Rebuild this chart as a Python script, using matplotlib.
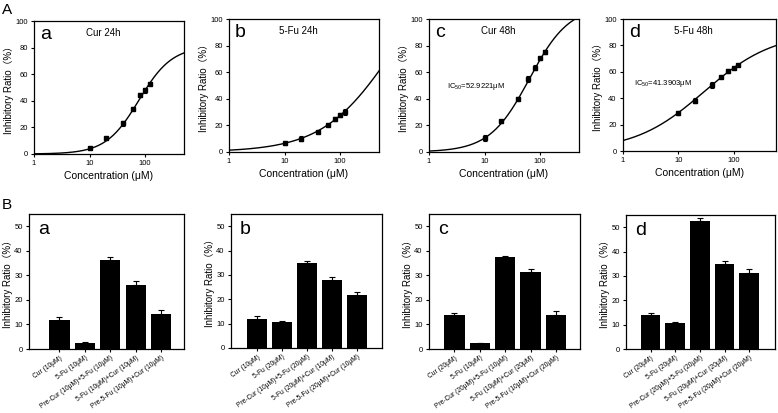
import numpy as np
import matplotlib
matplotlib.use("Agg")
import matplotlib.pyplot as plt

plt.rcParams["font.family"] = ["Liberation Sans", "Noto Sans CJK SC", "DejaVu Sans"]
plt.rcParams["mathtext.fontset"] = "custom"
plt.rcParams["mathtext.rm"] = "Liberation Sans"
plt.rcParams["mathtext.default"] = "regular"

# ---- A: dose-response (concentration in uM) ----
conc = [10, 20, 40, 60, 80, 100, 120]

cur24 = [4.5, 12, 23, 34, 44, 48, 53]
cur24_err = [0.8, 0.8, 1.8, 1.0, 1.5, 2.0, 1.0]
fu24 = [6.5, 10, 15, 20.5, 24.5, 27.5, 30]
fu24_err = [1.0, 2.0, 0.8, 0.8, 1.5, 1.5, 2.5]
cur48 = [10.5, 23, 40, 55, 63.5, 70.5, 75]
cur48_err = [2.0, 1.0, 1.0, 2.0, 2.0, 1.0, 1.5]
fu48 = [29, 38, 50, 56, 60.5, 63, 65]
fu48_err = [1.5, 1.8, 2.0, 1.0, 1.5, 0.8, 0.8]

# fitted logistic curves: top, EC50, hill slope
fit_cur24 = [81, 77.4, 1.458]
fit_fu24 = [150, 864, 0.693]
fit_cur48 = [110, 64, 1.212]
fit_fu48 = [90, 29.3, 0.691]

# ---- B: combination treatments ----
labels_a = ["Cur (10μM)", "5-Fu (10μM)", "Pre-Cur (10μM)+5-Fu (10μM)",
            "5-Fu (10μM)+Cur (10μM)", "Pre-5-Fu (10μM)+Cur (10μM)"]
labels_b = ["Cur (10μM)", "5-Fu (20μM)", "Pre-Cur (10μM)+5-Fu (20μM)",
            "5-Fu (20μM)+Cur (10μM)", "Pre-5-Fu (20μM)+Cur (10μM)"]
labels_c = ["Cur (20μM)", "5-Fu (10μM)", "Pre-Cur (20μM)+5-Fu (10μM)",
            "5-Fu (10μM)+Cur (20μM)", "Pre-5-Fu (10μM)+Cur (20μM)"]
labels_d = ["Cur (20μM)", "5-Fu (20μM)", "Pre-Cur (20μM)+5-Fu (20μM)",
            "5-Fu (20μM)+Cur (20μM)", "Pre-5-Fu (20μM)+Cur (20μM)"]

bars_a = [12, 2.3, 36.2, 26.2, 14.3]
err_a = [1.2, 0.4, 1.2, 1.7, 1.7]
bars_b = [12, 10.7, 35, 28, 21.8]
err_b = [1.2, 0.5, 0.8, 1.0, 1.0]
bars_c = [14, 2.3, 37.4, 31.5, 13.8]
err_c = [0.8, 0.3, 0.5, 1.0, 1.5]
bars_d = [14, 10.7, 52.5, 35, 31.3]
err_d = [0.8, 0.4, 1.2, 1.2, 1.4]

W, H = 778, 413
fig = plt.figure(figsize=(W / 100, H / 100), dpi=100)


def box(l, r, t, b):
    return [l / W, 1 - b / H, (r - l) / W, (b - t) / H]


YLABEL = "Inhibitory Ratio（%）"


def style(ax):
    for s in ax.spines.values():
        s.set_linewidth(0.9)
    ax.tick_params(labelsize=5.5, length=2.5, width=0.8, direction="out", pad=2)


def curve_panel(rect, y, yerr, fit, letter, title, xmax=500, ic50=None, icpos=None):
    ax = fig.add_axes(rect)
    top, ec50, hill = fit
    xs = np.logspace(0, np.log10(xmax), 200)
    ax.plot(xs, top / (1 + (ec50 / xs) ** hill), color="black", lw=1.0)
    ax.errorbar(conc, y, yerr=yerr, fmt="s", color="black", ms=3,
                elinewidth=0.8, capsize=1.5, capthick=0.8)
    ax.set_xscale("log")
    ax.set_xlim(1, xmax)
    ax.set_ylim(0, 100)
    ax.set_xticks([1, 10, 100])
    ax.set_xticklabels(["1", "10", "100"])
    ax.xaxis.set_minor_locator(matplotlib.ticker.NullLocator())
    ax.set_yticks(range(0, 101, 20))
    ax.set_xlabel("Concentration (μM)", fontsize=7.5, labelpad=3)
    ax.set_ylabel(YLABEL, fontsize=7, labelpad=1)
    ax.text(0.04, 0.865, letter, transform=ax.transAxes, fontsize=14)
    ax.text(0.46, 0.89, title, transform=ax.transAxes, fontsize=7, ha="center")
    if ic50:
        ax.text(icpos[0], icpos[1], ic50, transform=ax.transAxes, fontsize=5.5)
    style(ax)
    return ax


def bar_panel(rect, vals, errs, labels, letter, xlim):
    ax = fig.add_axes(rect)
    x = np.arange(len(vals))
    ax.bar(x, vals, width=0.8, color="black")
    ax.errorbar(x, vals, yerr=[np.zeros(len(errs)), errs], fmt="none",
                ecolor="black", elinewidth=0.8, capsize=2, capthick=0.8)
    ax.set_xlim(*xlim)
    ax.set_ylim(0, 55)
    ax.set_yticks(range(0, 51, 10))
    ax.set_xticks(x)
    ax.set_xticklabels(labels, rotation=35, ha="right", rotation_mode="anchor")
    ax.set_ylabel(YLABEL, fontsize=7, labelpad=1)
    ax.text(0.06, 0.85, letter, transform=ax.transAxes, fontsize=14)
    style(ax)
    ax.tick_params(axis="x", labelsize=4.8, pad=1.5)
    return ax


curve_panel(box(34, 184, 21, 154), cur24, cur24_err, fit_cur24, "a", "Cur 24h")
curve_panel(box(229, 379, 19, 152), fu24, fu24_err, fit_fu24, "b", "5-Fu 24h")
curve_panel(box(429, 579, 19, 152), cur48, cur48_err, fit_cur48, "c", "Cur 48h",
            ic50="IC$_{50}$=52.9221μM", icpos=(0.12, 0.48))
curve_panel(box(623, 776, 19, 151), fu48, fu48_err, fit_fu48, "d", "5-Fu 48h",
            xmax=580, ic50="IC$_{50}$=41.3903μM", icpos=(0.07, 0.5))

bar_panel(box(29, 184, 214, 349), bars_a, err_a, labels_a, "a", (-1.2, 4.9))
bar_panel(box(231, 382, 214, 348), bars_b, err_b, labels_b, "b", (-1.05, 5.0))
bar_panel(box(429, 580, 214, 349), bars_c, err_c, labels_c, "c", (-1.0, 4.95))
bar_panel(box(626, 775, 215, 349), bars_d, err_d, labels_d, "d", (-1.0, 5.05))

fig.text(2 / W, 1 - 3 / H, "A", fontsize=11, va="top")
fig.text(2 / W, 1 - 198 / H, "B", fontsize=11, va="top")

fig.savefig("out.png", dpi=100)
